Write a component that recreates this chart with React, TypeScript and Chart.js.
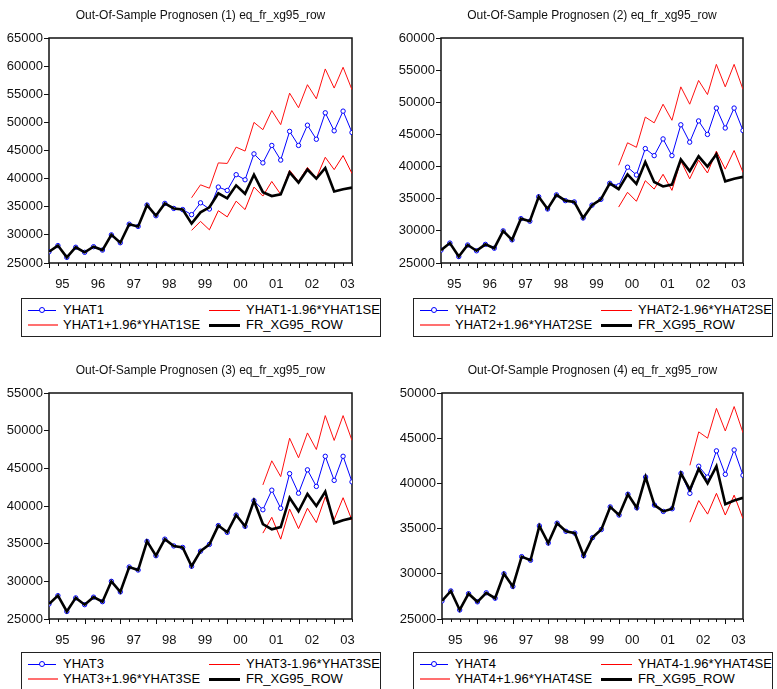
import React, { useEffect, useRef } from 'react';
import { Chart, registerables } from 'chart.js';

Chart.register(...registerables);

const FONT = '"Liberation Sans", Arial, Helvetica, sans-serif';

// Quarterly observations 1995Q1 .. 2003Q3
const yearLabels = ['95', '96', '97', '98', '99', '00', '01', '02', '03'];

const actual = [
  27000, 28100, 26000, 27800, 26900, 27900, 27300, 30000, 28600, 31900, 31500, 35300,
  33400, 35600, 34700, 34500, 32000, 34000, 34900, 37400, 36500, 38800, 37300, 40700,
  37600, 36900, 37200, 41100, 39300, 41600, 40000, 41900, 37700, 38100, 38400,
];

// Panel 1 (forecast from 1999Q1)
const fc1 = [33600, 35700, 34600, 38500, 37900, 40700, 39800, 44400, 42800, 45900, 43300, 48400, 45900, 49500, 47000, 51700, 48500, 52000, 48200];
const up1 = [36600, 38900, 38300, 42800, 42700, 45600, 44900, 50000, 48700, 52100, 49600, 55200, 52600, 56700, 54200, 59500, 56100, 59800, 55800];
const lo1 = [30800, 32400, 30900, 34300, 33200, 36000, 34500, 38500, 36900, 39500, 37200, 41500, 39500, 42000, 40100, 43800, 41600, 44100, 40900];

// Panel 2 (forecast from 2000Q1)
const fc2 = [37000, 39900, 38700, 42800, 41700, 44300, 41700, 46500, 43800, 47100, 45000, 49100, 46000, 49100, 45600];
const up2 = [40200, 43700, 43000, 47700, 46800, 49700, 47200, 52400, 49700, 53400, 51200, 55900, 52400, 55900, 52000];
const lo2 = [33700, 36000, 34600, 37800, 36500, 38800, 36300, 40900, 38100, 41000, 39000, 42400, 39600, 42500, 39100];

// Panel 3 (forecast from 2001Q1)
const fc3 = [39500, 42100, 39700, 44300, 41700, 44800, 42600, 46600, 43400, 46600, 43200];
const up3 = [42800, 46000, 43900, 49000, 46400, 49700, 47500, 52000, 48700, 52000, 48700];
const lo3 = [36400, 38500, 35600, 39600, 37000, 39700, 37800, 41200, 38200, 41100, 38100];

// Panel 4 (forecast from 2002Q1)
const fc4 = [38900, 41900, 40700, 43600, 41000, 43700, 40900];
const up4 = [42000, 45700, 45000, 48300, 45800, 48500, 45600];
const lo4 = [35700, 38100, 36600, 38900, 36500, 38700, 36100];

type Spec = {
  n: number;
  start: number;
  yMin: number;
  yMax: number;
  fc: number[];
  up: number[];
  lo: number[];
  cLeft: number;
  cTop: number;
  cWidth: number;
  plotRight: number;
  plotBottom: number;
  legLeft: number;
  legTop: number;
};

const specs: Spec[] = [
  { n: 1, start: 16, yMin: 25000, yMax: 65000, fc: fc1, up: up1, lo: lo1, cLeft: 0, cTop: 0, cWidth: 388, plotRight: 352, plotBottom: 263, legLeft: 21, legTop: 298 },
  { n: 2, start: 20, yMin: 25000, yMax: 60000, fc: fc2, up: up2, lo: lo2, cLeft: 392, cTop: 0, cWidth: 385, plotRight: 743, plotBottom: 263, legLeft: 413, legTop: 298 },
  { n: 3, start: 24, yMin: 25000, yMax: 55000, fc: fc3, up: up3, lo: lo3, cLeft: 0, cTop: 355, cWidth: 388, plotRight: 352, plotBottom: 619, legLeft: 21, legTop: 652 },
  { n: 4, start: 28, yMin: 25000, yMax: 50000, fc: fc4, up: up4, lo: lo4, cLeft: 393, cTop: 355, cWidth: 384, plotRight: 743, plotBottom: 619, legLeft: 413, legTop: 652 },
];

const C_HEIGHT = 290;
const X_AXIS_H = 26;

const framePlugin = {
  id: 'frameTicks',
  beforeDatasetsDraw(chart: any) {
    const { ctx, chartArea: a, scales } = chart;
    ctx.save();
    ctx.strokeStyle = '#111';
    ctx.lineWidth = 1.5;
    ctx.strokeRect(a.left, a.top, a.right - a.left, a.bottom - a.top);
    const xs = scales.x;
    ctx.lineWidth = 1;
    for (let i = 0; i < actual.length; i++) {
      const px = Math.round(xs.getPixelForValue(i)) + 0.5;
      const len = i % 4 === 0 ? 5 : 3;
      ctx.beginPath();
      ctx.moveTo(px, a.bottom);
      ctx.lineTo(px, a.bottom + len);
      ctx.stroke();
    }
    ctx.restore();
  },
};

function toPoints(values: number[], start: number) {
  return values.map((v, i) => ({ x: start + i, y: v }));
}

function Panel({ s }: { s: Spec }) {
  const ref = useRef<HTMLCanvasElement | null>(null);
  useEffect(() => {
    if (!ref.current) return;
    const yhat = actual.slice(0, s.start).concat(s.fc);
    const chart = new Chart(ref.current, {
      type: 'line',
      data: {
        datasets: [
          {
            label: 'FR_XG95_ROW',
            data: toPoints(actual, 0),
            borderColor: '#000000',
            borderWidth: 2.6,
            pointRadius: 0,
            tension: 0,
          },
          {
            label: `YHAT${s.n}`,
            data: toPoints(yhat, 0),
            borderColor: '#0000ff',
            borderWidth: 1,
            pointRadius: 2.2,
            pointBorderWidth: 1,
            pointBorderColor: '#0000ff',
            pointBackgroundColor: '#ffffff',
            tension: 0,
          },
          {
            label: `YHAT${s.n}+1.96*YHAT${s.n}SE`,
            data: toPoints(s.up, s.start),
            borderColor: '#ff1010',
            borderWidth: 1,
            pointRadius: 0,
            tension: 0,
          },
          {
            label: `YHAT${s.n}-1.96*YHAT${s.n}SE`,
            data: toPoints(s.lo, s.start),
            borderColor: '#ff0000',
            borderWidth: 1,
            pointRadius: 0,
            tension: 0,
          },
        ] as any,
      },
      options: {
        animation: false,
        responsive: false,
        devicePixelRatio: 1,
        layout: {
          padding: {
            left: 0,
            top: 0,
            right: s.cLeft + s.cWidth - s.plotRight,
            bottom: Math.max(0, s.cTop + C_HEIGHT - s.plotBottom - X_AXIS_H),
          },
        },
        plugins: {
          legend: { display: false },
          tooltip: { enabled: false },
          title: {
            display: true,
            fullSize: false,
            text: `Out-Of-Sample Prognosen (${s.n}) eq_fr_xg95_row`,
            color: '#111',
            font: { family: FONT, size: 12, weight: 'normal' },
            padding: { top: 8.8, bottom: 14.8 },
          },
        },
        scales: {
          x: {
            type: 'linear',
            min: 0,
            max: actual.length - 1,
            grid: { display: false },
            border: { display: false },
            afterBuildTicks: (scale: any) => {
              scale.ticks = yearLabels.map((_, k) => ({ value: Math.min(4 * k + 1.5, actual.length - 1) }));
            },
            afterFit: (scale: any) => {
              scale.height = X_AXIS_H;
            },
            ticks: {
              autoSkip: false,
              maxRotation: 0,
              minRotation: 0,
              padding: 6,
              color: '#111',
              font: { family: FONT, size: 13 },
              callback: (_v: any, idx: number) => yearLabels[idx],
            },
          },
          y: {
            type: 'linear',
            min: s.yMin,
            max: s.yMax,
            border: { display: false },
            grid: {
              drawOnChartArea: false,
              drawTicks: true,
              tickLength: 5,
              color: '#111',
            },
            afterFit: (scale: any) => {
              scale.width = 49;
            },
            ticks: {
              stepSize: 5000,
              padding: 1,
              color: '#111',
              font: { family: FONT, size: 13 },
              callback: (v: any) => String(v),
            },
          },
        },
      } as any,
      plugins: [framePlugin],
    });
    return () => chart.destroy();
  }, [s]);

  return (
    <canvas
      ref={ref}
      width={s.cWidth}
      height={C_HEIGHT}
      style={{ position: 'absolute', left: s.cLeft, top: s.cTop, width: s.cWidth, height: C_HEIGHT }}
    />
  );
}

function Swatch({ left, top, width, color, thick, marker }: any) {
  return (
    <>
      <div
        style={{
          position: 'absolute',
          left,
          top: top - thick / 2,
          width,
          height: thick,
          background: color,
        }}
      />
      {marker ? (
        <div
          style={{
            position: 'absolute',
            left: left + width / 2 - 3,
            top: top - 3,
            width: 4,
            height: 4,
            borderRadius: '50%',
            border: `1px solid ${color}`,
            background: '#fff',
          }}
        />
      ) : null}
    </>
  );
}

function Legend({ s }: { s: Spec }) {
  const n = s.n;
  const rows = [11, 26];
  const textStyle = (left: number, y: number): React.CSSProperties => ({
    position: 'absolute',
    left,
    top: y - 8,
    height: 16,
    lineHeight: '16px',
    fontFamily: FONT,
    fontSize: 13,
    color: '#000',
    whiteSpace: 'nowrap',
  });
  return (
    <div
      style={{
        position: 'absolute',
        left: s.legLeft,
        top: s.legTop,
        width: 358,
        height: 37,
        border: '1px solid #222',
        background: '#fff',
      }}
    >
      <Swatch left={6} top={rows[0]} width={28} color="#0000ff" thick={1} marker />
      <div style={textStyle(41, rows[0])}>{`YHAT${n}`}</div>
      <Swatch left={187} top={rows[0]} width={31} color="#ff0000" thick={1} />
      <div style={textStyle(224, rows[0])}>{`YHAT${n}-1.96*YHAT${n}SE`}</div>
      <Swatch left={6} top={rows[1]} width={30} color="#ff7070" thick={2} />
      <div style={textStyle(41, rows[1])}>{`YHAT${n}+1.96*YHAT${n}SE`}</div>
      <Swatch left={187} top={rows[1]} width={31} color="#000000" thick={3} />
      <div style={textStyle(224, rows[1])}>FR_XG95_ROW</div>
    </div>
  );
}

export default function App() {
  return (
    <div
      style={{
        position: 'absolute',
        left: 0,
        top: 0,
        width: 777,
        height: 689,
        overflow: 'hidden',
        background: '#fff',
      }}
    >
      {specs.map((s) => (
        <Panel key={s.n} s={s} />
      ))}
      {specs.map((s) => (
        <Legend key={`l${s.n}`} s={s} />
      ))}
    </div>
  );
}
